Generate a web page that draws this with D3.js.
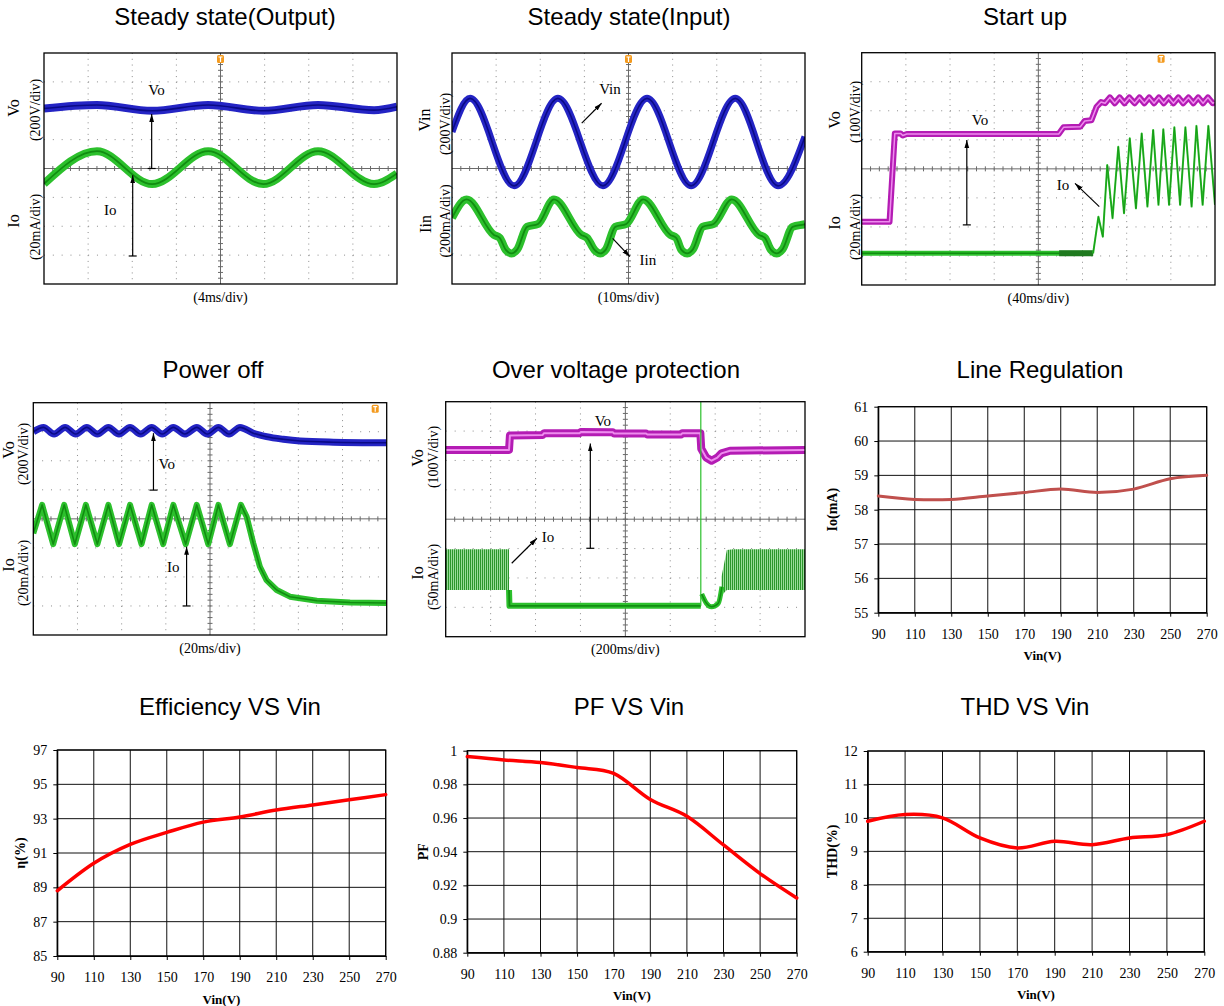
<!DOCTYPE html>
<html>
<head>
<meta charset="utf-8">
<script src="https://cdn.jsdelivr.net/npm/d3@7"></script>
<style>
  body { margin: 0; background: #fff; }
  svg { display: block; }
  .title { font-family: "Liberation Sans", Arial, sans-serif; font-size: 24px; fill: #000; }
  .serif { font-family: "Liberation Serif", "Times New Roman", serif; fill: #000; }
  .axis text { font-family: "Liberation Serif", "Times New Roman", serif; font-size: 14px; fill: #000; }
</style>
</head>
<body>
<svg id="chart" width="1224" height="1006"></svg>
<script>
// ---- measured curves (x = input voltage) ----
const vinTicks = [90, 110, 130, 150, 170, 190, 210, 230, 250, 270];
const lineRegIo = [58.4, 58.3, 58.3, 58.4, 58.5, 58.6, 58.5, 58.6, 58.9, 59.0];
const efficiency = [88.8, 90.4, 91.5, 92.2, 92.8, 93.1, 93.5, 93.8, 94.1, 94.4];
const powerFactor = [0.9965, 0.9945, 0.993, 0.990, 0.9865, 0.971, 0.961, 0.944, 0.927, 0.9125];
const thdValues = [9.9, 10.1, 10.0, 9.4, 9.1, 9.3, 9.2, 9.4, 9.5, 9.9];

const ioTicks = [55, 56, 57, 58, 59, 60, 61];
const effTicks = [85, 87, 89, 91, 93, 95, 97];
const pfTicks = [0.88, 0.9, 0.92, 0.94, 0.96, 0.98, 1];
const thdTicks = [6, 7, 8, 9, 10, 11, 12];

// ---- scope traces, [time in div, level in div] (screen is 8 x 8 div, centre = 0) ----
const ssOutVo = [[0, 2.08], [1.2, 2.2], [2.45, 2.0], [3.72, 2.2], [4.97, 2.0], [6.21, 2.2], [7.48, 2.02], [8, 2.14]];
const ssOutIo = [[0, -0.53], [1.2, 0.6], [2.45, -0.54], [3.72, 0.6], [4.97, -0.54], [6.21, 0.6], [7.48, -0.54], [8, -0.17]];

const ssInVin = [[0, 1.27], [0.41, 2.43], [1.41, -0.6], [2.4, 2.43], [3.42, -0.6], [4.42, 2.43], [5.42, -0.6], [6.42, 2.43], [7.39, -0.6], [8, 1.1]];
const ssInIin = [[0, -1.71], [0.33, -1.07], [0.95, -2.3], [1.08, -2.4], [1.22, -2.82], [1.35, -2.94], [1.48, -2.8], [1.7, -2.02], [1.95, -1.92],
  [2.31, -1.07], [2.93, -2.3], [3.06, -2.4], [3.23, -2.82], [3.36, -2.94], [3.49, -2.8], [3.7, -2.02], [3.95, -1.92],
  [4.33, -1.07], [4.95, -2.3], [5.08, -2.4], [5.2, -2.82], [5.33, -2.94], [5.46, -2.8], [5.68, -2.02], [5.93, -1.92],
  [6.34, -1.07], [6.96, -2.3], [7.09, -2.4], [7.23, -2.82], [7.36, -2.94], [7.49, -2.8], [7.72, -2.02], [7.97, -1.94], [8, -1.93]];

const startVo = [[0, -1.82], [0.63, -1.82], [0.75, 1.22], [0.88, 1.22], [0.93, 1.15], [1.02, 1.2], [4.46, 1.2], [4.57, 1.43],
  [4.95, 1.45], [5.05, 1.65], [5.2, 1.67], [5.32, 2.14], [5.42, 2.3], [5.51, 2.26], [5.62, 2.46], [5.73, 2.26], [5.84, 2.46],
  [5.95, 2.26], [6.06, 2.46], [6.18, 2.26], [6.29, 2.46], [6.4, 2.26], [6.51, 2.46], [6.62, 2.26], [6.73, 2.46], [6.84, 2.26],
  [6.95, 2.46], [7.06, 2.26], [7.17, 2.46], [7.28, 2.26], [7.4, 2.46], [7.51, 2.26], [7.62, 2.46], [7.73, 2.26], [7.84, 2.46],
  [7.95, 2.26], [8, 2.3]];
const startIoFlat = [[0, -2.91], [5.24, -2.91]];
const startIoNoise = [[4.47, -2.91], [5.24, -2.91]];
const startIo = [[5.24, -2.91], [5.36, -1.65], [5.46, -2.34], [5.56, 0.13], [5.68, -1.7], [5.81, 0.76], [5.94, -1.53], [6.07, 1.05],
  [6.21, -1.36], [6.34, 1.22], [6.47, -1.3], [6.6, 1.34], [6.72, -1.24], [6.83, 1.36], [6.96, -1.24], [7.08, 1.43], [7.21, -1.24],
  [7.33, 1.43], [7.47, -1.3], [7.58, 1.48], [7.72, -1.24], [7.85, 1.48], [8, -1.24]];

const powerOffVo = [[0, 3.0], [0.23, 3.15], [0.47, 2.92], [0.72, 3.15], [0.96, 2.92], [1.21, 3.15], [1.45, 2.92], [1.7, 3.15],
  [1.94, 2.92], [2.19, 3.15], [2.43, 2.92], [2.68, 3.15], [2.92, 2.92], [3.17, 3.15], [3.43, 2.92], [3.7, 3.15], [3.94, 2.92],
  [4.19, 3.15], [4.43, 2.92], [4.68, 3.15], [4.98, 2.95], [5.28, 2.83], [5.66, 2.74], [6.04, 2.68], [6.79, 2.64], [8, 2.62]];
const powerOffIo = [[0, -0.5], [0.2, 0.48], [0.45, -0.87], [0.7, 0.48], [0.94, -0.87], [1.19, 0.48], [1.45, -0.87], [1.7, 0.48],
  [1.94, -0.87], [2.19, 0.48], [2.45, -0.87], [2.68, 0.48], [2.94, -0.87], [3.17, 0.48], [3.45, -0.87], [3.7, 0.48], [3.96, -0.87],
  [4.19, 0.48], [4.45, -0.87], [4.7, 0.48], [4.83, 0.07], [4.98, -0.84], [5.13, -1.65], [5.28, -2.11], [5.51, -2.45],
  [5.81, -2.68], [6.42, -2.82], [7.17, -2.88], [8, -2.9]];

const ovpVo = [[0, 2.36], [1.41, 2.36], [1.43, 2.85], [2.16, 2.87], [2.19, 2.93], [2.98, 2.93], [3.01, 2.97], [3.72, 2.96],
  [3.75, 2.92], [4.46, 2.92], [4.49, 2.88], [5.24, 2.88], [5.27, 2.93], [5.67, 2.93], [5.69, 2.4], [5.8, 2.1], [5.92, 1.99],
  [6.05, 2.1], [6.14, 2.24], [6.33, 2.33], [8, 2.36]];
// switching ripple envelope [t, low, high]
const ovpIoBandL = [[0, -2.41, -1.02], [1.41, -2.41, -1.02]];
const ovpIoBandR = [[6.14, -2.6, -1.96], [6.26, -2.41, -1.05], [6.4, -2.41, -1.02], [8, -2.41, -1.02]];
const ovpIoLine = [[1.41, -2.41], [1.42, -2.95], [5.68, -2.95]];
const ovpIoSpike = [[5.68, -2.95], [5.68, 4]];
const ovpIoDip = [[5.7, -2.55], [5.8, -2.85], [5.92, -2.98], [6.07, -2.86], [6.15, -2.3]];

const svg = d3.select("#chart");
const defs = svg.append("defs");

defs.append("marker")
  .attr("id", "head")
  .attr("viewBox", "0 0 10 10")
  .attr("refX", 10).attr("refY", 5)
  .attr("markerWidth", 8).attr("markerHeight", 8)
  .attr("markerUnits", "userSpaceOnUse")
  .attr("orient", "auto")
  .append("path").attr("d", "M0,2L10,5L0,8z").attr("fill", "#000");

const hatch = defs.append("pattern")
  .attr("id", "hatch").attr("patternUnits", "userSpaceOnUse")
  .attr("width", 2).attr("height", 6);
hatch.append("rect").attr("width", 2).attr("height", 6).attr("fill", "#98dc98");
hatch.append("line").attr("x1", 0.5).attr("x2", 0.5).attr("y1", 0).attr("y2", 6)
  .attr("stroke", "#1f8f1f").attr("stroke-width", 0.9);

const traceColors = {
  blue: { outer: "#2424c4", inner: "#0a0a86" },
  green: { outer: "#2cc02c", inner: "#118c11" },
  dark: { outer: "#1f7a1f", inner: "#0b5a0b" },
  magenta: { outer: "#b41cb4", inner: "#ee8cee" }
};

function drawScope(p, idx) {
  const x = d3.scaleLinear().domain([0, 8]).range([p.x0, p.x1]);
  const y = d3.scaleLinear().domain([-4, 4]).range([p.y1, p.y0]);
  const dx = (p.x1 - p.x0) / 8, dy = (p.y1 - p.y0) / 8;
  const g = svg.append("g");

  g.append("text").attr("class", "title")
    .attr("x", p.titleX).attr("y", p.titleY).attr("text-anchor", "middle")
    .text(p.title);

  g.append("rect")
    .attr("x", p.x0).attr("y", p.y0)
    .attr("width", p.x1 - p.x0).attr("height", p.y1 - p.y0)
    .attr("fill", "#fff");

  // dotted graticule
  const grid = [1, 2, 3, 5, 6, 7];
  g.selectAll(null).data(grid).join("line")
    .attr("x1", d => x(d)).attr("x2", d => x(d))
    .attr("y1", p.y0).attr("y2", p.y1)
    .attr("stroke", "#8c8c8c").attr("stroke-width", 1)
    .attr("stroke-dasharray", `1,${dy / 5 - 1}`);
  g.selectAll(null).data(grid.map(d => d - 4)).join("line")
    .attr("y1", d => y(d)).attr("y2", d => y(d))
    .attr("x1", p.x0).attr("x2", p.x1)
    .attr("stroke", "#8c8c8c").attr("stroke-width", 1)
    .attr("stroke-dasharray", `1,${dx / 5 - 1}`);

  // centre axes with minor ticks
  g.append("line").attr("x1", x(4)).attr("x2", x(4)).attr("y1", p.y0).attr("y2", p.y1)
    .attr("stroke", "#6a6a6a");
  g.append("line").attr("x1", p.x0).attr("x2", p.x1).attr("y1", y(0)).attr("y2", y(0))
    .attr("stroke", "#6a6a6a");
  const minor = d3.range(1, 40);
  g.selectAll(null).data(minor).join("line")
    .attr("x1", d => x(d / 5)).attr("x2", d => x(d / 5))
    .attr("y1", y(0) - 2.5).attr("y2", y(0) + 2.5)
    .attr("stroke", "#6a6a6a");
  g.selectAll(null).data(minor).join("line")
    .attr("y1", d => y(d / 5 - 4)).attr("y2", d => y(d / 5 - 4))
    .attr("x1", x(4) - 2.5).attr("x2", x(4) + 2.5)
    .attr("stroke", "#6a6a6a");

  // traces
  const clipId = "clip" + idx;
  defs.append("clipPath").attr("id", clipId)
    .append("rect").attr("x", p.x0).attr("y", p.y0)
    .attr("width", p.x1 - p.x0).attr("height", p.y1 - p.y0);
  const tg = g.append("g").attr("clip-path", `url(#${clipId})`);

  (p.bands || []).forEach(b => {
    tg.append("path")
      .attr("d", d3.area().x(d => x(d[0])).y0(d => y(d[1])).y1(d => y(d[2]))(b))
      .attr("fill", "url(#hatch)");
  });

  p.traces.forEach(tr => {
    const line = d3.line().x(d => x(d[0])).y(d => y(d[1])).curve(tr.curve || d3.curveLinear);
    const c = traceColors[tr.color];
    tg.append("path").attr("d", line(tr.data))
      .attr("fill", "none").attr("stroke", c.outer)
      .attr("stroke-width", tr.w).attr("stroke-linejoin", "round").attr("stroke-linecap", "butt");
    if (tr.iw) {
      tg.append("path").attr("d", line(tr.data))
        .attr("fill", "none").attr("stroke", c.inner)
        .attr("stroke-width", tr.iw).attr("stroke-linejoin", "round");
    }
  });

  // trigger marker
  if (p.trig != null) {
    const tx = x(p.trig);
    g.append("rect").attr("x", tx - 3.5).attr("y", p.y0 + 2).attr("width", 7).attr("height", 8)
      .attr("rx", 1.5).attr("fill", "#f39a1e");
    g.append("path").attr("d", `M${tx - 2},${p.y0 + 4}H${tx + 2}M${tx},${p.y0 + 4}V${p.y0 + 9}`)
      .attr("stroke", "#fff").attr("stroke-width", 1.2);
  }

  // frame
  g.append("rect")
    .attr("x", p.x0).attr("y", p.y0)
    .attr("width", p.x1 - p.x0).attr("height", p.y1 - p.y0)
    .attr("fill", "none").attr("stroke", "#000").attr("stroke-width", 1.3);

  // annotations
  p.arrows.forEach(a => {
    g.append("line")
      .attr("x1", x(a.from[0])).attr("y1", y(a.from[1]))
      .attr("x2", x(a.to[0])).attr("y2", y(a.to[1]))
      .attr("stroke", "#000").attr("stroke-width", 1.2)
      .attr("marker-end", "url(#head)");
    if (a.bar) {
      g.append("line")
        .attr("x1", x(a.from[0]) - 4).attr("x2", x(a.from[0]) + 4)
        .attr("y1", y(a.from[1])).attr("y2", y(a.from[1]))
        .attr("stroke", "#000").attr("stroke-width", 1.2);
    }
  });
  p.notes.forEach(n => {
    g.append("text").attr("class", "serif")
      .attr("x", x(n.at[0])).attr("y", y(n.at[1]))
      .attr("text-anchor", "middle").attr("dominant-baseline", "central")
      .style("font-size", "15px")
      .text(n.text);
  });

  // channel scale labels
  p.ylabels.forEach(l => {
    g.append("text").attr("class", "serif")
      .attr("transform", `translate(${l.x},${l.y}) rotate(-90)`)
      .attr("text-anchor", "middle").attr("dominant-baseline", "central")
      .style("font-size", (l.size || 14) + "px")
      .text(l.text);
  });

  g.append("text").attr("class", "serif")
    .attr("x", (p.x0 + p.x1) / 2).attr("y", p.y1 + 13)
    .attr("text-anchor", "middle").attr("dominant-baseline", "central")
    .style("font-size", "14px")
    .text(p.timeLabel);
}

const scopes = [
  {
    x0: 44, x1: 397, y0: 53, y1: 284, title: "Steady state(Output)", titleX: 225, titleY: 25,
    timeLabel: "(4ms/div)", trig: 4,
    traces: [
      { data: ssOutVo, color: "blue", w: 8, iw: 1.6, curve: d3.curveMonotoneX },
      { data: ssOutIo, color: "green", w: 8, iw: 1.8, curve: d3.curveMonotoneX }
    ],
    arrows: [{ from: [2.44, 0], to: [2.44, 1.89], bar: true }, { from: [2.01, -3.03], to: [2.01, -0.23], bar: true }],
    notes: [{ text: "Vo", at: [2.55, 2.72] }, { text: "Io", at: [1.5, -1.44] }],
    ylabels: [{ text: "Vo", x: 13, y: 108, size: 16 }, { text: "(200V/div)", x: 35, y: 110 },
      { text: "Io", x: 13, y: 221, size: 16 }, { text: "(20mA/div)", x: 35, y: 227 }]
  },
  {
    x0: 452, x1: 805, y0: 53, y1: 284, title: "Steady state(Input)", titleX: 629, titleY: 25,
    timeLabel: "(10ms/div)", trig: 4,
    traces: [
      { data: ssInVin, color: "blue", w: 7, iw: 1.6, curve: d3.curveMonotoneX },
      { data: ssInIin, color: "green", w: 8, iw: 1.8, curve: d3.curveMonotoneX }
    ],
    arrows: [{ from: [2.94, 1.57], to: [3.39, 2.26] }, { from: [3.64, -2.42], to: [4.03, -3.05] }],
    notes: [{ text: "Vin", at: [3.58, 2.75] }, { text: "Iin", at: [4.44, -3.17] }],
    ylabels: [{ text: "Vin", x: 424, y: 120, size: 16 }, { text: "(200V/div)", x: 445, y: 124 },
      { text: "Iin", x: 425, y: 224, size: 16 }, { text: "(200mA/div)", x: 445, y: 221 }]
  },
  {
    x0: 861.7, x1: 1215, y0: 52.7, y1: 285, title: "Start up", titleX: 1025, titleY: 25,
    timeLabel: "(40ms/div)", trig: 6.78,
    traces: [
      { data: startVo, color: "magenta", w: 6, iw: 1.5 },
      { data: startIoFlat, color: "green", w: 5, iw: 1.5 },
      { data: startIoNoise, color: "dark", w: 6 },
      { data: startIo, color: "green", w: 2, iw: 0.7 }
    ],
    arrows: [{ from: [2.38, -1.93], to: [2.38, 0.99], bar: true }, { from: [5.38, -1.3], to: [4.83, -0.5] }],
    notes: [{ text: "Vo", at: [2.68, 1.68] }, { text: "Io", at: [4.56, -0.56] }],
    ylabels: [{ text: "Vo", x: 834, y: 120, size: 16 }, { text: "(100V/div)", x: 855, y: 112 },
      { text: "Io", x: 834, y: 223, size: 16 }, { text: "(20mA/div)", x: 855, y: 227 }]
  },
  {
    x0: 33.3, x1: 386.7, y0: 402.7, y1: 635, title: "Power off", titleX: 213, titleY: 378,
    timeLabel: "(20ms/div)", trig: 7.74,
    traces: [
      { data: powerOffVo, color: "blue", w: 7, iw: 1.6, curve: d3.curveMonotoneX },
      { data: powerOffIo, color: "green", w: 6, iw: 1.6 }
    ],
    arrows: [{ from: [2.72, 0.99], to: [2.72, 2.95], bar: true }, { from: [3.47, -3.0], to: [3.47, -0.96], bar: true }],
    notes: [{ text: "Vo", at: [3.02, 1.89] }, { text: "Io", at: [3.17, -1.65] }],
    ylabels: [{ text: "Vo", x: 8, y: 450, size: 16 }, { text: "(200V/div)", x: 23, y: 454 },
      { text: "Io", x: 8, y: 565, size: 16 }, { text: "(20mA/div)", x: 23, y: 573 }]
  },
  {
    x0: 445.7, x1: 805, y0: 401.7, y1: 636.7, title: "Over voltage protection", titleX: 616, titleY: 378,
    timeLabel: "(200ms/div)", trig: null,
    bands: [ovpIoBandL, ovpIoBandR],
    traces: [
      { data: ovpVo, color: "magenta", w: 8, iw: 2 },
      { data: ovpIoLine, color: "green", w: 6, iw: 1.8 },
      { data: ovpIoSpike, color: "green", w: 1.2 },
      { data: ovpIoDip, color: "green", w: 5, iw: 1.5, curve: d3.curveMonotoneX }
    ],
    arrows: [{ from: [3.22, -0.99], to: [3.22, 2.58], bar: true }, { from: [1.47, -1.5], to: [2.03, -0.65] }],
    notes: [{ text: "Vo", at: [3.5, 3.35] }, { text: "Io", at: [2.28, -0.6] }],
    ylabels: [{ text: "Vo", x: 417, y: 458, size: 16 }, { text: "(100V/div)", x: 433, y: 457 },
      { text: "Io", x: 417, y: 573, size: 16 }, { text: "(50mA/div)", x: 433, y: 577 }]
  }
];
scopes.forEach(drawScope);

function drawChart(c) {
  const x = d3.scaleLinear().domain([90, 270]).range([c.x0, c.x1]);
  const y = d3.scaleLinear().domain([c.ticks[0], c.ticks[c.ticks.length - 1]]).range([c.y1, c.y0]);
  const g = svg.append("g");

  g.append("text").attr("class", "title")
    .attr("x", c.titleX).attr("y", c.titleY).attr("text-anchor", "middle")
    .text(c.title);

  g.append("rect").attr("x", c.x0).attr("y", c.y0)
    .attr("width", c.x1 - c.x0).attr("height", c.y1 - c.y0).attr("fill", "#fff");

  g.selectAll(null).data(vinTicks).join("line")
    .attr("x1", d => x(d)).attr("x2", d => x(d)).attr("y1", c.y0).attr("y2", c.y1)
    .attr("stroke", "#111").attr("stroke-width", 1);
  g.selectAll(null).data(c.ticks).join("line")
    .attr("y1", d => y(d)).attr("y2", d => y(d)).attr("x1", c.x0).attr("x2", c.x1)
    .attr("stroke", "#111").attr("stroke-width", 1);

  g.append("g").attr("class", "axis")
    .attr("transform", `translate(${c.x0},0)`)
    .call(d3.axisLeft(y).tickValues(c.ticks).tickSize(4).tickSizeOuter(0).tickPadding(6)
      .tickFormat(d => String(d)))
    .call(a => a.select(".domain").attr("stroke", "#000"));
  g.append("g").attr("class", "axis")
    .attr("transform", `translate(0,${c.y1})`)
    .call(d3.axisBottom(x).tickValues(vinTicks).tickSize(4).tickSizeOuter(0).tickPadding(12))
    .call(a => a.select(".domain").attr("stroke", "#000"));

  g.append("rect").attr("x", c.x0).attr("y", c.y0)
    .attr("width", c.x1 - c.x0).attr("height", c.y1 - c.y0)
    .attr("fill", "none").attr("stroke", "#000").attr("stroke-width", 1.2);

  const line = d3.line()
    .x((d, i) => x(vinTicks[i])).y(d => y(d))
    .curve(d3.curveCardinal.tension(0));
  g.append("path").attr("d", line(c.values))
    .attr("fill", "none").attr("stroke", c.color).attr("stroke-width", c.lw)
    .attr("stroke-linecap", "round");

  g.append("text").attr("class", "serif")
    .attr("x", (c.x0 + c.x1) / 2).attr("y", c.y1 + 43)
    .attr("text-anchor", "middle").attr("dominant-baseline", "central")
    .style("font-size", "13px").style("font-weight", "bold")
    .text("Vin(V)");
  g.append("text").attr("class", "serif")
    .attr("transform", `translate(${c.yTitleX},${(c.y0 + c.y1) / 2}) rotate(-90)`)
    .attr("text-anchor", "middle").attr("dominant-baseline", "central")
    .style("font-size", "14px").style("font-weight", "bold")
    .text(c.yTitle);
}

const charts = [
  { x0: 878.3, x1: 1206.7, y0: 406.7, y1: 612.7, ticks: ioTicks, values: lineRegIo, color: "#c0504d", lw: 3,
    title: "Line Regulation", titleX: 1040, titleY: 378, yTitle: "Io(mA)", yTitleX: 832 },
  { x0: 57.3, x1: 385.7, y0: 750, y1: 956, ticks: effTicks, values: efficiency, color: "#ff0000", lw: 3.5,
    title: "Efficiency VS Vin", titleX: 230, titleY: 715, yTitle: "η(%)", yTitleX: 20 },
  { x0: 467.3, x1: 796.7, y0: 750.7, y1: 952.7, ticks: pfTicks, values: powerFactor, color: "#ff0000", lw: 3.5,
    title: "PF VS Vin", titleX: 629, titleY: 715, yTitle: "PF", yTitleX: 423 },
  { x0: 867.7, x1: 1204.3, y0: 751, y1: 951.7, ticks: thdTicks, values: thdValues, color: "#ff0000", lw: 3.5,
    title: "THD VS Vin", titleX: 1025, titleY: 715, yTitle: "THD(%)", yTitleX: 832 }
];
charts.forEach(drawChart);
</script>
</body>
</html>
